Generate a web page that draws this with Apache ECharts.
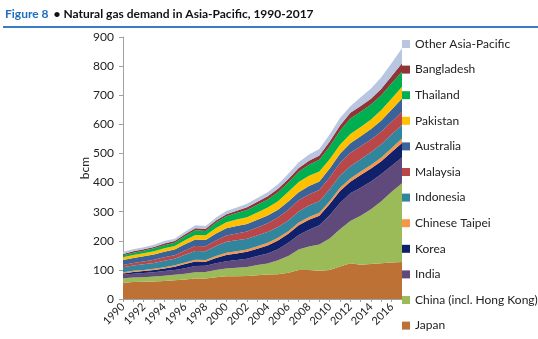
<!DOCTYPE html>
<html><head><meta charset="utf-8">
<script src="https://cdn.jsdelivr.net/npm/echarts@6/dist/echarts.min.js"></script>
<style>html,body{margin:0;padding:0;background:#fff}#c{width:538px;height:339px}</style>
</head><body><div id="c"></div>
<script>
var years = [];
for (var y = 1990; y <= 2017; y++) years.push(String(y));
var japan      = [56,58,59,60,62,64,67,70,70,75,78,78,79,82,84,85,90,100,100,97,100,112,123,118,120,123,125,127];
var china      = [15,16,16,17,18,19,20,22,23,25,27,29,31,35,38,48,58,70,80,90,108,128,145,168,188,213,243,271];
var india      = [12,13,14,15,16,17,19,21,21,23,25,27,28,31,34,38,45,50,58,66,80,90,95,96,96,93,90,88];
var korea      = [5,6,7,8,9,11,14,16,14,18,21,22,24,25,28,30,31,33,34,33,38,41,40,44,44,44,47,50];
var taipei     = [4,4,4,4,4,5,5,6,6,7,8,8,8,8,9,9,9,10,10,10,10,11,11,12,12,13,14,15];
var indonesia  = [17,18,19,20,22,22,27,30,30,34,38,38,37,37,37,37,37,38,39,40,41,42,42,42,44,46,47,47];
var malaysia   = [8,9,10,11,12,12,15,17,17,19,21,23,25,28,30,33,37,38,38,38,40,43,46,45,44,43,43,45];
var australia  = [17,17,18,18,19,20,21,22,22,24,25,26,26,26,27,27,28,28,29,30,31,32,33,34,36,38,42,46];
var pakistan   = [9,10,10,11,12,12,14,16,16,19,21,22,23,25,27,29,33,35,35,34,32,31,32,32,33,36,38,40];
var thailand   = [7,8,9,10,11,11,14,16,15,19,20,22,25,27,28,31,32,35,38,40,44,48,53,52,51,51,52,52];
var bangladesh = [5,5,5,5,6,6,6,7,7,7,7,8,9,10,11,12,12,13,14,15,17,18,20,20,20,22,25,29];
var other      = [7,7,7,7,8,8,9,10,10,10,11,11,12,13,14,15,18,20,21,22,24,26,22,30,35,40,45,51];

var seriesDefs = [
  ['Japan', japan, '#BE7134'],
  ['China (incl. Hong Kong)', china, '#9BBB59'],
  ['India', india, '#604A7B'],
  ['Korea', korea, '#10206A'],
  ['Chinese Taipei', taipei, '#F79646'],
  ['Indonesia', indonesia, '#31859C'],
  ['Malaysia', malaysia, '#B9474A'],
  ['Australia', australia, '#3A6499'],
  ['Pakistan', pakistan, '#FFC000'],
  ['Thailand', thailand, '#00B050'],
  ['Bangladesh', bangladesh, '#8E3636'],
  ['Other Asia-Pacific', other, '#B9C6E2']
];
var FONT = 'Lato';
var series = seriesDefs.map(function (d) {
  return {
    name: d[0], type: 'line', stack: 'total', data: d[1],
    showSymbol: false, symbol: 'none', smooth: false,
    lineStyle: { width: 0, color: d[2] },
    itemStyle: { color: d[2] },
    areaStyle: { color: d[2], opacity: 1 },
    emphasis: { disabled: true }
  };
});
var legendNames = seriesDefs.map(function (d) { return d[0]; }).reverse();

var chart = echarts.init(document.getElementById('c'), null, { renderer: 'canvas' });
chart.setOption({
  animation: false,
  backgroundColor: '#fff',
  title: {
    left: 5, top: 3, padding: [2, 0, 0, 0],
    text: '{a|Figure 8} {b|• Natural gas demand in Asia-Pacific, 1990-2017}',
    textStyle: {
      rich: {
        a: { fontFamily: FONT, fontWeight: 'bold', fontSize: 12, color: '#1F6EBE' },
        b: { fontFamily: FONT, fontWeight: 'bold', fontSize: 12, color: '#111' }
      }
    }
  },
  graphic: [{
    type: 'line', shape: { x1: 3, y1: 27, x2: 538, y2: 27 },
    style: { stroke: '#3B7DC4', lineWidth: 2 }
  }],
  legend: {
    data: legendNames,
    orient: 'vertical', left: 402, top: 38, padding: 0,
    itemWidth: 8, itemHeight: 8, itemGap: 13.6,
    icon: 'rect',
    textStyle: { fontFamily: FONT, fontSize: 12, color: '#222', lineHeight: 12 },
    selectedMode: false
  },
  grid: { left: 123, right: 136, top: 37, bottom: 40, containLabel: false },
  xAxis: {
    type: 'category', data: years, boundaryGap: false,
    axisLine: { lineStyle: { color: '#A0A0A0' } },
    axisTick: { show: true, interval: 0, length: 3, lineStyle: { color: '#A0A0A0' } },
    axisLabel: { interval: 1, rotate: 45, fontFamily: FONT, fontSize: 11, color: '#222', margin: 6 },
    splitLine: { show: false }
  },
  yAxis: {
    type: 'value', min: 0, max: 900, interval: 100,
    name: 'bcm', nameLocation: 'middle', nameGap: 32, nameRotate: 90, nameMoveOverlap: false,
    nameTextStyle: { fontFamily: FONT, fontSize: 12, color: '#222' },
    axisLine: { show: true, lineStyle: { color: '#A0A0A0' } },
    axisTick: { show: true, length: 4, lineStyle: { color: '#A0A0A0' } },
    axisLabel: { fontFamily: FONT, fontSize: 12, color: '#222', margin: 9 },
    splitLine: { show: false }
  },
  series: series
});
</script></body></html>
